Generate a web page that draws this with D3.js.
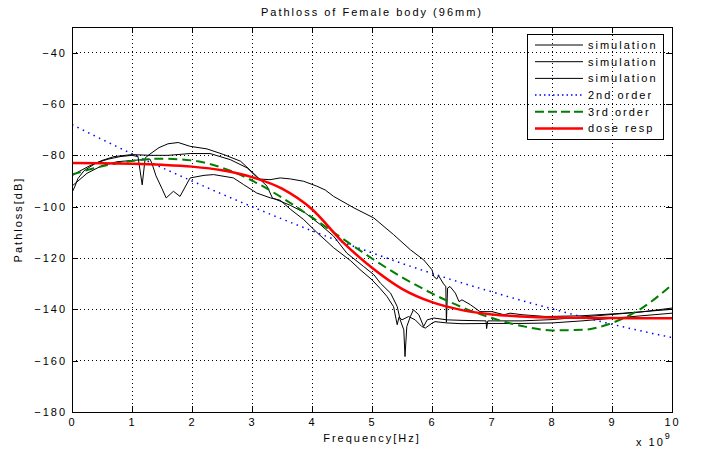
<!DOCTYPE html>
<meta charset="utf-8">
<head>
<title>Pathloss of Female body (96mm)</title>
<script src="https://d3js.org/d3.v7.min.js"></script>
<style>
body { margin: 0; background: #fff; }
svg { font-family: "Liberation Sans", Arial, sans-serif; }
text { font-size: 11px; fill: #000; letter-spacing: 2px; }
.axis line { stroke: #000; shape-rendering: crispEdges; }
.grid line { stroke: #000; stroke-dasharray: 1,3; shape-rendering: crispEdges; }
.box { fill: none; stroke: #000; shape-rendering: crispEdges; }
.sim { fill: none; stroke: #000; stroke-width: 1; }
</style>
</head>
<body>
<script>

// tick values
var freqTicks = [0, 1, 2, 3, 4, 5, 6, 7, 8, 9, 10];        // GHz (x 10^9 Hz)
var lossTicks = [-180, -160, -140, -120, -100, -80, -60, -40];

// three simulation runs
var simAFreq = [0, 0.05, 0.1, 0.2, 0.4, 0.6, 0.8, 1.0, 1.1, 1.17, 1.22, 1.3, 1.45, 1.6, 1.77, 1.97, 2.25, 2.53, 2.81, 3.08,
                3.25, 3.34, 3.64, 3.89, 4.14, 4.36, 4.58, 4.86, 5.03, 5.14, 5.31, 5.42, 5.47, 5.53, 5.55, 5.58, 5.64, 5.69, 5.78, 5.86,
                5.92, 6.03, 6.25, 6.5, 6.9, 6.91, 6.93, 7.5, 8.0, 8.5, 9.0, 9.5, 10];
var simALoss = [-94.5, -92, -89, -86, -83, -81.5, -80.5, -80, -80.5, -91.5, -81, -79.5, -77, -75.5, -75, -76.5, -77.5, -79.7, -82.3, -88.2,
                -92, -96.6, -99.5, -102.5, -107, -111.5, -118.1, -123.3, -126.5, -129.8, -133.7, -138.9, -144.1, -148, -158.4, -146.7, -142.8, -140.2, -142.1, -146.7,
                -144.1, -143.4, -144.1, -144.3, -144.5, -147.5, -144.5, -144.5, -144, -143, -142, -141, -139.5];

var simBFreq = [0, 0.1, 0.3, 0.5, 0.7, 1.0, 1.3, 1.6, 1.97, 2.3, 2.64, 2.92, 3.11, 3.3, 3.47, 3.64, 3.86, 4.08, 4.22, 4.36,
                4.7, 5.03, 5.36, 5.64, 5.86, 6.0, 6.03, 6.08, 6.11, 6.2, 6.23, 6.24, 6.26, 6.3, 6.39, 6.45, 6.5, 6.64, 6.8, 7.0,
                7.2, 7.3, 7.5, 7.9, 8.5, 9.2, 10];
var simBLoss = [-88, -86.5, -84, -82, -80.5, -79.7, -80, -80, -79.3, -79.3, -81.7, -84.9, -89.2, -89.5, -88.8, -89.2, -90.1, -92, -93.5, -96,
                -100.5, -104.4, -110.9, -116.8, -120.7, -124.6, -127.2, -128.2, -126.9, -130.4, -131, -145, -131.7, -131.1, -133.7, -137, -136.3, -138.2, -140.9, -140.9,
                -142.1, -141.5, -142.1, -142.8, -142.5, -141.5, -140];

var simCFreq = [0, 0.1, 0.25, 0.5, 0.75, 1.0, 1.3, 1.33, 1.4, 1.5, 1.57, 1.69, 1.8, 1.94, 1.97, 2.2, 2.36, 2.69, 2.86, 3.08,
                3.31, 3.47, 3.64, 3.86, 4.08, 4.36, 4.64, 4.8, 5.0, 5.14, 5.25, 5.36, 5.42, 5.45, 5.5, 5.61, 5.72, 5.83, 5.89, 6.0,
                6.05, 6.25, 6.5, 7.0, 7.5, 8.0, 8.5, 9.0, 9.5, 10];
var simCLoss = [-92, -90, -87, -84, -82.5, -82, -81.5, -83, -88, -93, -96.6, -94, -96, -90, -88.8, -87.8, -87.5, -88.8, -91.4, -94.7,
                -96.6, -97.5, -101, -105, -110, -116, -121, -124.5, -128.5, -132, -135, -139, -146, -143, -144.1, -142.8, -144.1, -146.7, -147.3, -145.4,
                -144.8, -145.3, -145.6, -145.5, -145.5, -145.3, -144.5, -143.5, -142.5, -141.5];

// fitted curves, read every 0.5 GHz
var fitFreq   = [0, 0.5, 1, 1.5, 2, 2.5, 3, 3.5, 4, 4.5, 5, 5.5, 6, 6.5, 7, 7.5, 8, 8.5, 9, 9.5, 10];
var order2Loss = [-68, -73.8, -79.4, -84.8, -90, -95.1, -100, -104.8, -109.4, -113.8, -118, -122.1, -126, -129.7, -133.2, -136.6, -139.8, -142.9, -145.8, -148.5, -151];
var order3Loss = [-87.5, -84.3, -82.2, -81.3, -82, -84.8, -89.8, -96.5, -104.2, -112.3, -120.2, -127.5, -133.8, -139.2, -143.4, -146.5, -148.2, -148, -145.3, -139.5, -130.4];
var doseLoss   = [-83, -83.1, -83.3, -83.7, -84.4, -85.8, -88.5, -93, -101, -113.5, -123.8, -132, -137.2, -140.3, -142, -142.8, -143.2, -143.3, -143.4, -143.45, -143.5];

var legendLabels = ["simulation", "simulation", "simulation", "2nd order", "3rd order", "dose resp"];

// set the dimensions and margins of the graph
var margin = {top: 27, right: 32, bottom: 39, left: 72},
    width = 704 - margin.left - margin.right,
    height = 451 - margin.top - margin.bottom;

var x = d3.scaleLinear().domain([0, 10]).range([0, width]);
var y = d3.scaleLinear().domain([-180, -30]).range([height, 0]);

var root = d3.select("body").append("svg")
    .attr("width", 704)
    .attr("height", 451);

var svg = root.append("g")
    .attr("transform", "translate(" + margin.left + "," + margin.top + ")");

svg.append("clipPath").attr("id", "plot-clip")
  .append("rect").attr("width", width).attr("height", height);

// dotted grid
svg.append("g").attr("class", "grid")
  .selectAll("line").data(freqTicks.slice(1, -1)).enter().append("line")
    .attr("x1", function(d) { return x(d); })
    .attr("x2", function(d) { return x(d); })
    .attr("y1", 0).attr("y2", height);
svg.append("g").attr("class", "grid")
  .selectAll("line").data(lossTicks.slice(1)).enter().append("line")
    .attr("y1", function(d) { return y(d); })
    .attr("y2", function(d) { return y(d); })
    .attr("x1", 0).attr("x2", width);

// axes, ticks pointing inwards on all four sides
svg.append("g").attr("class", "axis")
    .attr("transform", "translate(0," + height + ")")
    .call(d3.axisBottom(x).tickValues(freqTicks).tickSizeInner(-6).tickSizeOuter(0).tickPadding(6))
    .call(function(g) { g.select(".domain").remove(); });
svg.append("g").attr("class", "axis")
    .call(d3.axisTop(x).tickValues(freqTicks).tickSizeInner(-6).tickSizeOuter(0).tickFormat(""))
    .call(function(g) { g.select(".domain").remove(); });
svg.append("g").attr("class", "axis")
    .call(d3.axisLeft(y).tickValues(lossTicks).tickSizeInner(-6).tickSizeOuter(0).tickPadding(5))
    .call(function(g) { g.select(".domain").remove(); });
svg.append("g").attr("class", "axis")
    .attr("transform", "translate(" + width + ",0)")
    .call(d3.axisRight(y).tickValues(lossTicks).tickSizeInner(-6).tickSizeOuter(0).tickFormat(""))
    .call(function(g) { g.select(".domain").remove(); });

svg.selectAll(".axis text").style("font-size", "11px").style("font-family", null);

// lines
var line = d3.line()
    .x(function(d) { return x(d[0]); })
    .y(function(d) { return y(d[1]); });
var smooth = d3.line()
    .x(function(d) { return x(d[0]); })
    .y(function(d) { return y(d[1]); })
    .curve(d3.curveMonotoneX);

function pairs(f, v) { return f.map(function(d, i) { return [d, v[i]]; }); }

var plot = svg.append("g").attr("clip-path", "url(#plot-clip)");

[[simAFreq, simALoss], [simBFreq, simBLoss], [simCFreq, simCLoss]].forEach(function(s) {
  plot.append("path")
      .attr("class", "sim")
      .attr("d", line(pairs(s[0], s[1])));
});

var fitStyles = [
  {data: order2Loss, stroke: "#0000ff", width: 1.5, dash: "1.5,4.5"},
  {data: order3Loss, stroke: "#008000", width: 2, dash: "9,5"},
  {data: doseLoss,   stroke: "#ff0000", width: 2.5, dash: null}
];
fitStyles.forEach(function(s) {
  plot.append("path")
      .attr("fill", "none")
      .attr("stroke", s.stroke)
      .attr("stroke-width", s.width)
      .attr("stroke-dasharray", s.dash)
      .attr("d", smooth(pairs(fitFreq, s.data)));
});

// frame
svg.append("rect").attr("class", "box")
    .attr("width", width).attr("height", height);

// legend
var legendStyles = [
  {stroke: "#000", width: 1, dash: null},
  {stroke: "#000", width: 1, dash: null},
  {stroke: "#000", width: 1, dash: null},
  {stroke: "#0000ff", width: 1.5, dash: "1.5,3"},
  {stroke: "#008000", width: 2, dash: "9,4"},
  {stroke: "#ff0000", width: 2.5, dash: null}
];
var legend = root.append("g").attr("transform", "translate(527,34)");
legend.append("rect").attr("class", "box")
    .attr("fill", "#fff")
    .attr("width", 136).attr("height", 105);
var rows = legend.selectAll(".row").data(legendLabels).enter().append("g")
    .attr("transform", function(d, i) { return "translate(0," + (11 + i * 16.7) + ")"; });
rows.append("line")
    .attr("x1", 8).attr("x2", 56)
    .attr("stroke", function(d, i) { return legendStyles[i].stroke; })
    .attr("stroke-width", function(d, i) { return legendStyles[i].width; })
    .attr("stroke-dasharray", function(d, i) { return legendStyles[i].dash; });
rows.append("text")
    .attr("x", 61).attr("dy", "0.35em")
    .text(function(d) { return d; });

// title and labels
root.append("text")
    .attr("x", margin.left + width / 2)
    .attr("y", 16)
    .attr("text-anchor", "middle")
    .text("Pathloss of Female body (96mm)");

root.append("text")
    .attr("x", margin.left + width / 2)
    .attr("y", 442)
    .attr("text-anchor", "middle")
    .text("Frequency[Hz]");

root.append("text")
    .attr("transform", "translate(22," + (margin.top + height / 2) + ") rotate(-90)")
    .attr("text-anchor", "middle")
    .text("Pathloss[dB]");

var expo = root.append("text")
    .attr("x", 636)
    .attr("y", 446);
expo.append("tspan").text("x 10");
expo.append("tspan").attr("dy", -7).style("font-size", "9px").text("9");

</script>
</body>
